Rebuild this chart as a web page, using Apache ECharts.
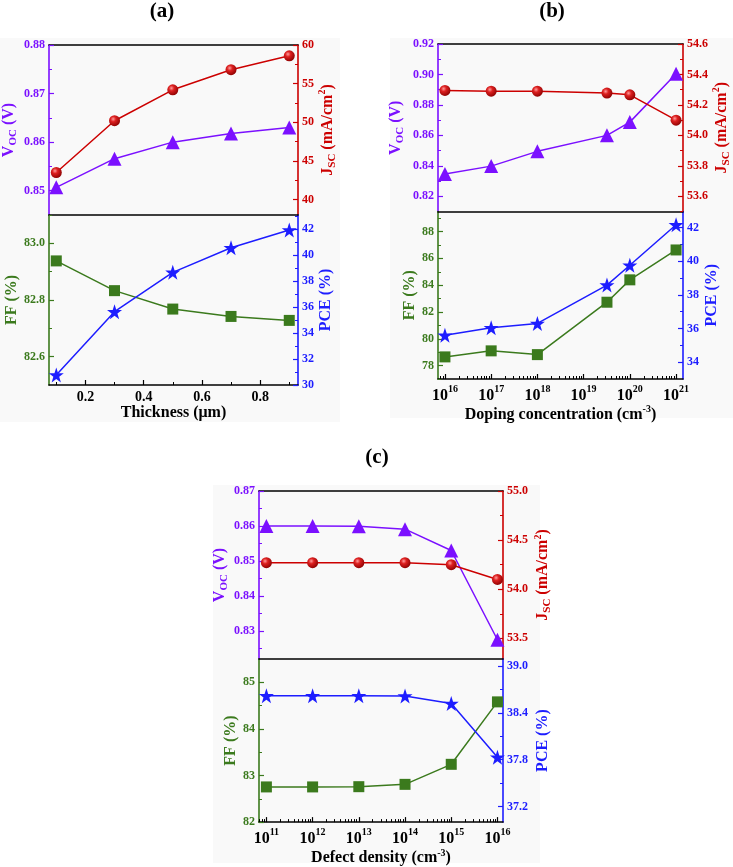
<!DOCTYPE html>
<html><head><meta charset="utf-8">
<script src="https://cdn.jsdelivr.net/npm/echarts@6/dist/echarts.min.js"></script>
<style>html,body{margin:0;padding:0;background:#fff}#c{width:733px;height:867px}</style>
</head><body><div id="c"></div>
<script>
// ---------- data ----------
const thickness = [0.1, 0.3, 0.5, 0.7, 0.9];
const vocA = [0.8507, 0.8566, 0.8600, 0.8618, 0.8630];
const jscA = [43.5, 50.2, 54.2, 56.8, 58.6];
const ffA  = [82.938, 82.833, 82.768, 82.742, 82.728];
const pceA = [30.77, 35.65, 38.68, 40.58, 41.95];

const doping = [1e16, 1e17, 1e18, 3.2e19, 1e20, 1e21];
const vocB = [0.8347, 0.8398, 0.8495, 0.8600, 0.8687, 0.9005];
const jscB = [54.295, 54.29, 54.29, 54.278, 54.266, 54.10];
const ffB  = [78.65, 79.10, 78.82, 82.73, 84.40, 86.63];
const pceB = [35.60, 36.04, 36.30, 38.58, 39.76, 42.16];

const defect = [1e11, 1e12, 1e13, 1e14, 1e15, 1e16];
const vocC = [0.8600, 0.8600, 0.8599, 0.8591, 0.8530, 0.8275];
const jscC = [54.27, 54.27, 54.27, 54.27, 54.25, 54.10];
const ffC  = [82.755, 82.755, 82.76, 82.81, 83.24, 84.58];
const pceC = [38.62, 38.62, 38.62, 38.615, 38.52, 37.83];

// tick labels
const xTicksA = [0.2, 0.4, 0.6, 0.8];
const xMinorA = [0.1, 0.3, 0.5, 0.7, 0.9];
const xTicksB = [16, 17, 18, 19, 20, 21];
const xTicksC = [11, 12, 13, 14, 15, 16];

const vocTicksA = [0.85, 0.86, 0.87, 0.88], vocMinA = [0.855, 0.865, 0.875];
const jscTicksA = [40, 45, 50, 55, 60], jscMinA = [42.5, 47.5, 52.5, 57.5];
const ffTicksA = [82.6, 82.8, 83.0], ffMinA = [82.7, 82.9, 83.1];
const pceTicksA = [30, 32, 34, 36, 38, 40, 42], pceMinA = [31, 33, 35, 37, 39, 41, 43];

const vocTicksB = [0.82, 0.84, 0.86, 0.88, 0.90, 0.92], vocMinB = [0.83, 0.85, 0.87, 0.89, 0.91];
const jscTicksB = [53.6, 53.8, 54.0, 54.2, 54.4, 54.6], jscMinB = [53.5, 53.7, 53.9, 54.1, 54.3, 54.5];
const ffTicksB = [78, 80, 82, 84, 86, 88], ffMinB = [77, 79, 81, 83, 85, 87, 89];
const pceTicksB = [34, 36, 38, 40, 42], pceMinB = [35, 37, 39, 41];

const vocTicksC = [0.83, 0.84, 0.85, 0.86, 0.87], vocMinC = [0.825, 0.835, 0.845, 0.855, 0.865];
const jscTicksC = [53.5, 54.0, 54.5, 55.0], jscMinC = [53.75, 54.25, 54.75];
const ffTicksC = [82, 83, 84, 85], ffMinC = [82.5, 83.5, 84.5];
const pceTicksC = [37.2, 37.8, 38.4, 39.0], pceMinC = [37.5, 38.1, 38.7];

// ---------- styling ----------
const FONT = '"Liberation Serif","Times New Roman",serif';
const C_VOC = '#7b10ff', C_JSC = '#cc0000', C_FF = '#3b7a1d', C_PCE = '#1d1dff';
const STAR = 'path://M50,0 L61.8,35.1 L98.5,35.1 L68.9,57 L80,92 L50,70.5 L20,92 L31.1,57 L1.5,35.1 L38.2,35.1 Z';

const grids = [
  {left: 49, top: 45, width: 249, height: 170},
  {left: 49, top: 215, width: 249, height: 170},
  {left: 438, top: 44, width: 245, height: 167.5},
  {left: 438, top: 211.5, width: 245, height: 167.5},
  {left: 259, top: 491, width: 244, height: 168},
  {left: 259, top: 659, width: 244, height: 166}
];

const xAxis = [], yAxis = [], series = [];

function nameStyle(color, size) {
  return {
    fontFamily: FONT, fontWeight: 'bold', fontSize: size, color: color,
    rich: {
      m: {fontFamily: FONT, fontWeight: 'bold', fontSize: size, color: color, lineHeight: 20},
      s: {fontFamily: FONT, fontWeight: 'bold', fontSize: 11, color: color, lineHeight: 10, verticalAlign: 'bottom'},
      p: {fontFamily: FONT, fontWeight: 'bold', fontSize: 10, color: color, lineHeight: 10, verticalAlign: 'top'}
    }
  };
}

function addY(g, pos, min, max, labels, minors, color, dec, name, gap) {
  const idx = yAxis.length;
  yAxis.push({
    type: 'value', gridIndex: g, position: pos, min: min, max: max,
    axisLine: {show: true, onZero: false, lineStyle: {color: color, width: 1.6}},
    axisTick: {show: true, inside: true, length: 5, customValues: labels, lineStyle: {color: color, width: 1.2}},
    axisLabel: {show: true, customValues: labels, color: color, fontFamily: FONT, fontWeight: 'bold', fontSize: 12, margin: 4,
      formatter: v => Number(v).toFixed(dec)},
    splitLine: {show: false},
    name: name, nameLocation: 'middle', nameRotate: 90, nameGap: gap, nameTextStyle: nameStyle(color, 16)
  });
  yAxis.push({
    type: 'value', gridIndex: g, position: pos, min: min, max: max,
    axisLine: {show: false, onZero: false}, axisLabel: {show: false}, splitLine: {show: false},
    axisTick: {show: true, inside: true, length: 3, customValues: minors, lineStyle: {color: color, width: 1}}
  });
  return idx;
}

function addX(g, min, max, labels, minors, showLabels, fmt, rich, name, gap, isTop) {
  const idx = xAxis.length;
  xAxis.push({
    type: 'value', gridIndex: g, position: 'bottom', min: min, max: max,
    axisLine: {show: true, onZero: false, lineStyle: {color: '#000', width: 1.6}},
    axisTick: {show: showLabels, inside: true, length: 5, customValues: labels, lineStyle: {color: '#000', width: 1.2}},
    axisLabel: {show: showLabels, customValues: labels, color: '#000', fontFamily: FONT, fontWeight: 'bold', fontSize: 14, margin: 5,
      formatter: fmt, rich: rich},
    splitLine: {show: false},
    name: name || '', nameLocation: 'middle', nameGap: gap || 0, nameTextStyle: nameStyle('#000', 16)
  });
  if (showLabels && minors) {
    xAxis.push({
      type: 'value', gridIndex: g, position: 'bottom', min: min, max: max,
      axisLine: {show: false, onZero: false}, axisLabel: {show: false}, splitLine: {show: false},
      axisTick: {show: true, inside: true, length: 3, customValues: minors, lineStyle: {color: '#000', width: 1}}
    });
  }
  if (isTop) {
    xAxis.push({
      type: 'value', gridIndex: g, position: 'top', min: min, max: max,
      axisLine: {show: true, onZero: false, lineStyle: {color: '#000', width: 1.6}},
      axisTick: {show: false}, axisLabel: {show: false}, splitLine: {show: false}
    });
  }
  return idx;
}

function logMinors(a, b) {
  const out = [];
  for (let e = a; e <= b; e++) for (let k = 2; k <= 9; k++) out.push(e + Math.log10(k));
  return out;
}

const logRich = {
  b: {fontFamily: FONT, fontWeight: 'bold', fontSize: 16, color: '#000', lineHeight: 20, verticalAlign: 'bottom'},
  p: {fontFamily: FONT, fontWeight: 'bold', fontSize: 10, color: '#000', lineHeight: 10, verticalAlign: 'top'}
};
const logFmt = v => '{b|10}{p|' + Math.round(v) + '}';
const linFmt = v => Number(v).toFixed(1);

function addLine(xi, yi, xs, ys, color, symbol, size, itemColor, logx) {
  series.push({
    type: 'line', xAxisIndex: xi, yAxisIndex: yi,
    data: xs.map((x, i) => [logx ? Math.log10(x) : x, ys[i]]),
    lineStyle: {color: color, width: 1.5},
    symbol: symbol, symbolSize: size, showSymbol: true,
    itemStyle: {color: itemColor || color, borderWidth: 0},
    z: 3, animation: false
  });
}

const sphere = {type: 'radial', x: 0.38, y: 0.35, r: 0.7,
  colorStops: [{offset: 0, color: '#ff9c9c'}, {offset: 0.35, color: '#dd2020'}, {offset: 1, color: '#8a0000'}]};

const VOCN = '{m|V}{s|OC}{m| (V)}';
const JSCN = '{m|J}{s|SC}{m| (mA/cm}{p|2}{m|)}';

// ---- panel (a) ----
let xa0 = addX(0, 0.075, 0.93, xTicksA, null, false, linFmt, null, '', 0, true);
let ya0L = addY(0, 'left', 0.845, 0.88, vocTicksA, vocMinA, C_VOC, 2, VOCN, 30);
let ya0R = addY(0, 'right', 38, 60, jscTicksA, jscMinA, C_JSC, 0, JSCN, 17);
addLine(xa0, ya0L, thickness, vocA, C_VOC, 'triangle', 14);
addLine(xa0, ya0R, thickness, jscA, C_JSC, 'circle', 11, sphere);

let xa1 = addX(1, 0.075, 0.93, xTicksA, xMinorA, true, linFmt, null, 'Thickness (μm)', 20, false);
let ya1L = addY(1, 'left', 82.5, 83.1, ffTicksA, ffMinA, C_FF, 1, 'FF (%)', 27);
let ya1R = addY(1, 'right', 30, 43.1, pceTicksA, pceMinA, C_PCE, 0, 'PCE (%)', 19);
addLine(xa1, ya1L, thickness, ffA, C_FF, 'rect', 11);
addLine(xa1, ya1R, thickness, pceA, C_PCE, STAR, 15);

// ---- panel (b) ----
let xb0 = addX(2, 15.85, 21.15, xTicksB, null, false, logFmt, logRich, '', 0, true);
let yb0L = addY(2, 'left', 0.81, 0.92, vocTicksB, vocMinB, C_VOC, 2, VOCN, 32);
let yb0R = addY(2, 'right', 53.5, 54.6, jscTicksB, jscMinB, C_JSC, 1, JSCN, 21);
addLine(xb0, yb0L, doping, vocB, C_VOC, 'triangle', 14, null, true);
addLine(xb0, yb0R, doping, jscB, C_JSC, 'circle', 11, sphere, true);

let xb1 = addX(3, 15.85, 21.15, xTicksB, logMinors(15, 21).filter(v => v > 15.85 && v < 21.15), true, logFmt, logRich,
  '{m|Doping concentration (cm}{p|-3}{m|)}', 22, false);
let yb1L = addY(3, 'left', 77, 89.5, ffTicksB, ffMinB, C_FF, 0, 'FF (%)', 19);
let yb1R = addY(3, 'right', 33, 42.95, pceTicksB, pceMinB, C_PCE, 0, 'PCE (%)', 21);
addLine(xb1, yb1L, doping, ffB, C_FF, 'rect', 11, null, true);
addLine(xb1, yb1R, doping, pceB, C_PCE, STAR, 15, null, true);

// ---- panel (c) ----
let xc0 = addX(4, 10.84, 16.12, xTicksC, null, false, logFmt, logRich, '', 0, true);
let yc0L = addY(4, 'left', 0.822, 0.87, vocTicksC, vocMinC, C_VOC, 2, VOCN, 28);
let yc0R = addY(4, 'right', 53.29, 55.0, jscTicksC, jscMinC, C_JSC, 1, JSCN, 30);
addLine(xc0, yc0L, defect, vocC, C_VOC, 'triangle', 14, null, true);
addLine(xc0, yc0R, defect, jscC, C_JSC, 'circle', 11, sphere, true);

let xc1 = addX(5, 10.84, 16.12, xTicksC, logMinors(10, 16).filter(v => v > 10.84 && v < 16.12), true, logFmt, logRich,
  '{m|Defect density (cm}{p|-3}{m|)}', 24, false);
let yc1L = addY(5, 'left', 82, 85.5, ffTicksC, ffMinC, C_FF, 0, 'FF (%)', 18);
let yc1R = addY(5, 'right', 37.0, 39.09, pceTicksC, pceMinC, C_PCE, 1, 'PCE (%)', 32);
addLine(xc1, yc1L, defect, ffC, C_FF, 'rect', 11, null, true);
addLine(xc1, yc1R, defect, pceC, C_PCE, STAR, 15, null, true);

const titleFont = 'bold 21px "Liberation Serif","Times New Roman",serif';
const option = {
  backgroundColor: '#ffffff',
  animation: false,
  grid: grids.map(g => Object.assign({containLabel: false}, g)),
  xAxis: xAxis,
  yAxis: yAxis,
  series: series,
  graphic: [
    {type: 'rect', z: -100, silent: true, shape: {x: 0, y: 38, width: 340, height: 384}, style: {fill: '#f9f9f9'}},
    {type: 'rect', z: -100, silent: true, shape: {x: 390, y: 38, width: 343, height: 380}, style: {fill: '#f9f9f9'}},
    {type: 'rect', z: -100, silent: true, shape: {x: 213, y: 485, width: 327, height: 378}, style: {fill: '#f9f9f9'}},
    {type: 'text', x: 162, y: 12, style: {text: '(a)', font: titleFont, fill: '#000', align: 'center', verticalAlign: 'middle'}},
    {type: 'text', x: 552, y: 12, style: {text: '(b)', font: titleFont, fill: '#000', align: 'center', verticalAlign: 'middle'}},
    {type: 'text', x: 377, y: 458, style: {text: '(c)', font: titleFont, fill: '#000', align: 'center', verticalAlign: 'middle'}}
  ]
};
const chart = echarts.init(document.getElementById('c'), null, {renderer: 'canvas'});
chart.setOption(option);
</script>
</body></html>
